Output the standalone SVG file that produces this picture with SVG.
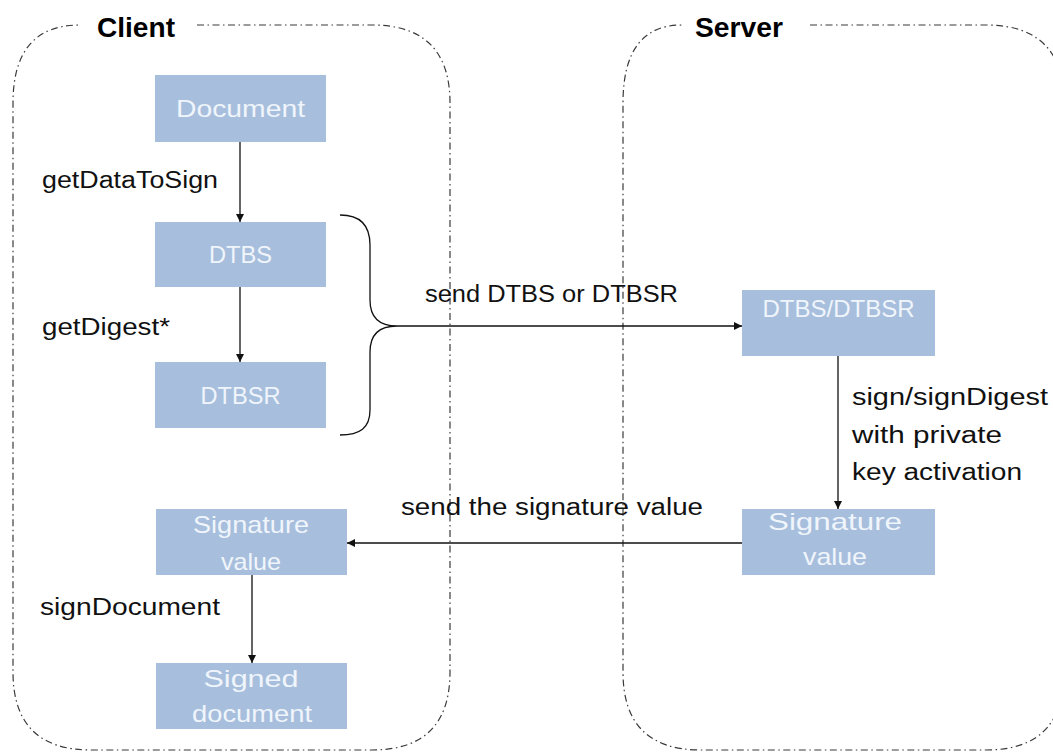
<svg xmlns="http://www.w3.org/2000/svg" width="1053" height="753" viewBox="0 0 1053 753">
<style>
.frame{fill:none;stroke:#3a3a3a;stroke-width:1.2;stroke-dasharray:7 3.5 1.5 3.5}
.box{fill:#a7bfdd}
.bt{font-family:"Liberation Sans",Arial,sans-serif;font-size:24px;fill:#f0f5fb;text-anchor:middle}
.lbl{font-family:"Liberation Sans",Arial,sans-serif;font-size:23px;fill:#111}
.title{font-family:"Liberation Sans",Arial,sans-serif;font-size:27px;font-weight:bold;fill:#000}
.con{fill:none;stroke:#111;stroke-width:1.3}
</style>
<defs>
<marker id="ah" viewBox="0 0 10 10" refX="10" refY="5" markerWidth="8" markerHeight="8" markerUnits="userSpaceOnUse" orient="auto">
<path d="M0,0 L10,5 L0,10 z" fill="#111"/>
</marker>
</defs>
<rect width="1053" height="753" fill="#fff"/>
<g id="client-frame">
<path class="frame" d="M197,25 L372,25 Q450,25 450,103 L450,672 Q450,750 372,750 L91,750 Q13,750 13,672 L13,103 Q13,25 80,25"/>
<text class="title" x="97" y="37" textLength="78" lengthAdjust="spacingAndGlyphs">Client</text>
</g>
<g id="server-frame">
<path class="frame" d="M810,25 L986,25 Q1064,25 1064,103 L1064,672 Q1064,750 986,750 L701,750 Q623,750 623,672 L623,103 Q623,25 682,25"/>
<text class="title" x="695" y="37" textLength="88" lengthAdjust="spacingAndGlyphs">Server</text>
</g>
<g id="connectors">
<line class="con" x1="240" y1="142" x2="240" y2="222" marker-end="url(#ah)"/>
<line class="con" x1="240" y1="287" x2="240" y2="362" marker-end="url(#ah)"/>
<line class="con" x1="252" y1="575" x2="252" y2="663" marker-end="url(#ah)"/>
<line class="con" x1="838" y1="356" x2="838" y2="509" marker-end="url(#ah)"/>
<path class="con" d="M340,215 C360,215 370,225 370,245 L370,300 C370,318 380,326 397,326 C380,326 370,334 370,352 L370,410 C370,428 360,435 340,435"/>
<line class="con" x1="397" y1="326" x2="742" y2="326" marker-end="url(#ah)"/>
<line class="con" x1="742" y1="543" x2="347" y2="543" marker-end="url(#ah)"/>
<text class="lbl" x="42" y="188" textLength="176" lengthAdjust="spacingAndGlyphs">getDataToSign</text>
<text class="lbl" x="42" y="335" textLength="128" lengthAdjust="spacingAndGlyphs">getDigest*</text>
<text class="lbl" x="40" y="615" textLength="180" lengthAdjust="spacingAndGlyphs">signDocument</text>
<text class="lbl" x="425" y="302" textLength="253" lengthAdjust="spacingAndGlyphs">send DTBS or DTBSR</text>
<text class="lbl" x="401" y="515" textLength="302" lengthAdjust="spacingAndGlyphs">send the signature value</text>
<text class="lbl" x="852" y="405" textLength="196" lengthAdjust="spacingAndGlyphs">sign/signDigest</text>
<text class="lbl" x="852" y="443" textLength="150" lengthAdjust="spacingAndGlyphs">with private</text>
<text class="lbl" x="852" y="480" textLength="170" lengthAdjust="spacingAndGlyphs">key activation</text>
</g>
<g id="document">
<rect class="box" x="155" y="75" width="171" height="67"/>
<text class="bt" x="240.5" y="117" textLength="129" lengthAdjust="spacingAndGlyphs">Document</text>
</g>
<g id="dtbs">
<rect class="box" x="155" y="222" width="171" height="65"/>
<text class="bt" x="240.5" y="263" textLength="63" lengthAdjust="spacingAndGlyphs">DTBS</text>
</g>
<g id="dtbsr">
<rect class="box" x="155" y="362" width="171" height="66"/>
<text class="bt" x="240.5" y="404" textLength="80" lengthAdjust="spacingAndGlyphs">DTBSR</text>
</g>
<g id="client-signature-value">
<rect class="box" x="156" y="509" width="191" height="66"/>
<text class="bt" x="251" y="533" textLength="116" lengthAdjust="spacingAndGlyphs">Signature</text>
<text class="bt" x="251" y="570" textLength="60" lengthAdjust="spacingAndGlyphs">value</text>
</g>
<g id="signed-document">
<rect class="box" x="156" y="663" width="191" height="66"/>
<text class="bt" x="251" y="687" textLength="95" lengthAdjust="spacingAndGlyphs">Signed</text>
<text class="bt" x="252" y="722" textLength="120" lengthAdjust="spacingAndGlyphs">document</text>
</g>
<g id="server-dtbs-dtbsr">
<rect class="box" x="742" y="290" width="193" height="66"/>
<text class="bt" x="838.5" y="317" textLength="152" lengthAdjust="spacingAndGlyphs">DTBS/DTBSR</text>
</g>
<g id="server-signature-value">
<rect class="box" x="742" y="509" width="193" height="66"/>
<text class="bt" x="835" y="530" textLength="134" lengthAdjust="spacingAndGlyphs">Signature</text>
<text class="bt" x="835" y="565" textLength="64" lengthAdjust="spacingAndGlyphs">value</text>
</g>
</svg>
